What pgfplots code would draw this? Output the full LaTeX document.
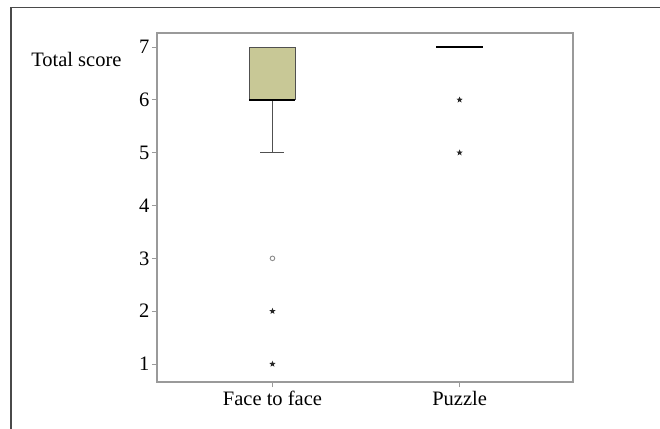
\documentclass[border=0pt]{standalone}
\usepackage{pgfplots}
\pgfplotsset{compat=1.18}
\usepackage{fontspec}
\setmainfont{Liberation Serif}
\definecolor{boxcol}{HTML}{C8C896}
\definecolor{boxedge}{HTML}{505050}
\definecolor{axgray}{HTML}{9A9A9A}
\definecolor{framegray}{HTML}{4A4A4A}
\pgfdeclareplotmark{fstar}{%
  \pgfpathmoveto{\pgfpointpolar{90}{\pgfplotmarksize}}%
  \pgfpathlineto{\pgfpointpolar{126}{0.42\pgfplotmarksize}}%
  \pgfpathlineto{\pgfpointpolar{162}{\pgfplotmarksize}}%
  \pgfpathlineto{\pgfpointpolar{198}{0.42\pgfplotmarksize}}%
  \pgfpathlineto{\pgfpointpolar{234}{\pgfplotmarksize}}%
  \pgfpathlineto{\pgfpointpolar{270}{0.42\pgfplotmarksize}}%
  \pgfpathlineto{\pgfpointpolar{306}{\pgfplotmarksize}}%
  \pgfpathlineto{\pgfpointpolar{342}{0.42\pgfplotmarksize}}%
  \pgfpathlineto{\pgfpointpolar{18}{\pgfplotmarksize}}%
  \pgfpathlineto{\pgfpointpolar{54}{0.42\pgfplotmarksize}}%
  \pgfpathclose
  \pgfusepathqfill}
\begin{document}
\begin{tikzpicture}
\useasboundingbox (0,0) rectangle (660bp,429bp);
\begin{scope}
\clip (0,0) rectangle (660bp,429bp);
\draw[framegray, line width=1.6bp] (11bp,-5bp) -- (11bp,421.5bp) -- (670bp,421.5bp);
\end{scope}
\begin{axis}[
  at={(157bp,47bp)}, anchor=south west,
  scale only axis, width=416bp, height=349bp,
  xmin=0.383, xmax=2.606, ymin=0.66, ymax=7.265,
  axis line style={axgray, line width=1.3bp},
  xtick={1,2}, xticklabels={Face to face, Puzzle},
  ytick={1,2,3,4,5,6,7},
  tick align=outside, tick pos=left,
  major tick length=5bp,
  every tick/.style={axgray, line width=0.8bp},
  /pgf/number format/assume math mode=true,
  ticklabel style={font=\fontsize{20.5bp}{24bp}\selectfont, text=black},
  yticklabel style={xshift=1bp},
  xticklabel style={yshift=-1bp},
  ylabel={Total score},
  every axis y label/.style={at={(rel axis cs:0,0.905)}, anchor=base east, xshift=-32bp, font=\fontsize{20.5bp}{24bp}\selectfont},
]
% Face to face box (Q1=6, Q3=7)
\addplot[fill=boxcol, draw=boxedge, line width=0.9bp] coordinates {(0.877,6) (1.123,6) (1.123,7) (0.877,7)} -- cycle;
% lower whisker 6 -> 5
\addplot[boxedge, line width=1bp] coordinates {(1,6) (1,5)};
\addplot[boxedge, line width=1bp] coordinates {(0.936,5) (1.064,5)};
% medians
\addplot[black, line width=2.2bp] coordinates {(0.877,6) (1.123,6)};
\addplot[black, line width=2.2bp] coordinates {(1.874,7) (2.126,7)};
% extreme outliers (stars)
\addplot[only marks, mark=fstar, mark size=3.3bp, black!85] coordinates {(1,2) (1,1) (2,6) (2,5)};
% outlier (circle)
\addplot[only marks, mark=o, mark size=2.3bp, draw=gray!90, line width=0.9bp] coordinates {(1,3)};
\end{axis}
\end{tikzpicture}
\end{document}
